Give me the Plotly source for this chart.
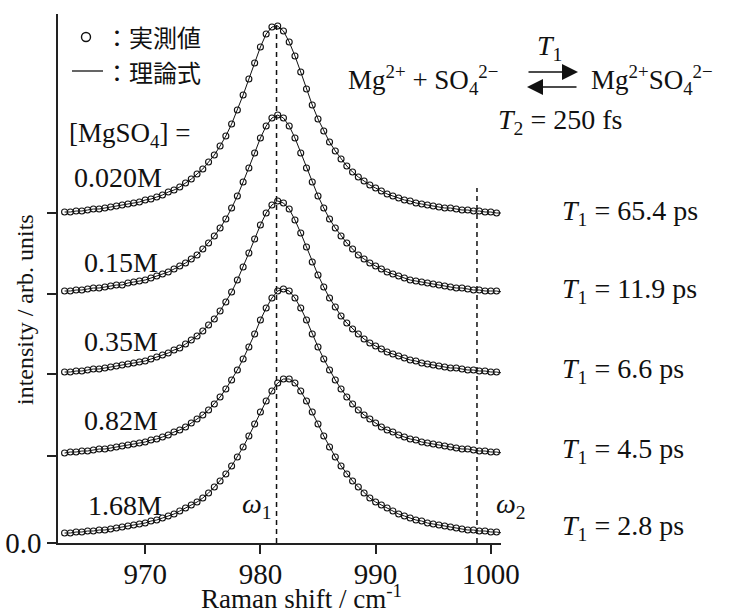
import plotly.graph_objects as go

# ---------------- data ----------------
raman_shift = [963.0, 963.5, 964.0, 964.5, 965.0, 965.5, 966.0, 966.5, 967.0, 967.5,
               968.0, 968.5, 969.0, 969.5, 970.0, 970.5, 971.0, 971.5, 972.0, 972.5,
               973.0, 973.5, 974.0, 974.5, 975.0, 975.5, 976.0, 976.5, 977.0, 977.5,
               978.0, 978.5, 979.0, 979.5, 980.0, 980.5, 981.0, 981.5, 982.0, 982.5,
               983.0, 983.5, 984.0, 984.5, 985.0, 985.5, 986.0, 986.5, 987.0, 987.5,
               988.0, 988.5, 989.0, 989.5, 990.0, 990.5, 991.0, 991.5, 992.0, 992.5,
               993.0, 993.5, 994.0, 994.5, 995.0, 995.5, 996.0, 996.5, 997.0, 997.5,
               998.0, 998.5, 999.0, 999.5, 1000.0, 1000.5, 1001.0]

# intensity (offset, arb. units) for each concentration
int_0020M = [3.31, 3.31, 3.32, 3.32, 3.33, 3.34, 3.34, 3.35, 3.36, 3.37,
             3.38, 3.39, 3.40, 3.41, 3.43, 3.44, 3.46, 3.48, 3.51, 3.53,
             3.56, 3.60, 3.64, 3.69, 3.74, 3.81, 3.88, 3.97, 4.07, 4.19,
             4.33, 4.48, 4.64, 4.80, 4.96, 5.09, 5.16, 5.17, 5.12, 5.01,
             4.87, 4.71, 4.54, 4.38, 4.24, 4.12, 4.01, 3.92, 3.84, 3.77,
             3.71, 3.66, 3.62, 3.58, 3.55, 3.52, 3.49, 3.47, 3.45, 3.43,
             3.42, 3.40, 3.39, 3.38, 3.37, 3.36, 3.35, 3.35, 3.34, 3.33,
             3.33, 3.32, 3.32, 3.31, 3.31, 3.30, 3.30]
int_015M = [2.52, 2.52, 2.53, 2.53, 2.54, 2.55, 2.55, 2.56, 2.57, 2.58,
            2.58, 2.60, 2.61, 2.62, 2.63, 2.65, 2.67, 2.69, 2.71, 2.74,
            2.77, 2.80, 2.84, 2.88, 2.94, 3.00, 3.07, 3.15, 3.24, 3.35,
            3.47, 3.61, 3.75, 3.90, 4.05, 4.17, 4.25, 4.28,
            4.25, 4.17, 4.05, 3.90, 3.75, 3.61, 3.47, 3.35, 3.24, 3.15,
            3.07, 3.00, 2.94, 2.88, 2.84, 2.80, 2.77, 2.74, 2.71, 2.69,
            2.67, 2.65, 2.63, 2.62, 2.61, 2.60, 2.59, 2.58, 2.57, 2.56,
            2.55, 2.55, 2.54, 2.53, 2.53, 2.52, 2.52, 2.52, 2.51]
int_035M = [1.71, 1.71, 1.72, 1.72, 1.73, 1.74, 1.74, 1.75, 1.76, 1.77,
            1.78, 1.79, 1.80, 1.81, 1.82, 1.84, 1.86, 1.88, 1.90, 1.93,
            1.95, 1.99, 2.03, 2.07, 2.12, 2.18, 2.24, 2.32, 2.41, 2.51,
            2.63, 2.76, 2.90, 3.04, 3.18, 3.30, 3.38, 3.42,
            3.40, 3.34, 3.23, 3.10, 2.96, 2.81, 2.68, 2.56, 2.45, 2.36,
            2.27, 2.20, 2.14, 2.09, 2.04, 2.00, 1.97, 1.94, 1.91, 1.89,
            1.87, 1.85, 1.83, 1.82, 1.80, 1.79, 1.78, 1.77, 1.76, 1.75,
            1.75, 1.74, 1.73, 1.73, 1.72, 1.72, 1.71, 1.71, 1.70]
int_082M = [0.90, 0.91, 0.91, 0.92, 0.92, 0.93, 0.94, 0.94, 0.95, 0.96,
            0.97, 0.98, 0.99, 1.00, 1.01, 1.03, 1.04, 1.06, 1.08, 1.11,
            1.13, 1.16, 1.20, 1.24, 1.28, 1.33, 1.39, 1.46, 1.54, 1.63,
            1.73, 1.84, 1.96, 2.09, 2.23, 2.35, 2.45, 2.52, 2.54,
            2.52, 2.45, 2.35, 2.23, 2.09, 1.96, 1.84, 1.73, 1.63, 1.54,
            1.46, 1.39, 1.33, 1.28, 1.24, 1.20, 1.16, 1.13, 1.11, 1.08,
            1.06, 1.04, 1.03, 1.01, 1.00, 0.99, 0.98, 0.97, 0.96, 0.95,
            0.94, 0.94, 0.93, 0.92, 0.92, 0.91, 0.91, 0.90]
int_168M = [0.10, 0.10, 0.11, 0.11, 0.12, 0.12, 0.13, 0.13, 0.14, 0.15,
            0.16, 0.17, 0.18, 0.19, 0.20, 0.22, 0.23, 0.25, 0.27, 0.29,
            0.32, 0.35, 0.38, 0.41, 0.45, 0.50, 0.56, 0.62, 0.69, 0.77,
            0.86, 0.96, 1.07, 1.19, 1.31, 1.42, 1.52, 1.60, 1.64,
            1.64, 1.60, 1.52, 1.42, 1.31, 1.19, 1.07, 0.96, 0.86, 0.77,
            0.69, 0.62, 0.56, 0.50, 0.45, 0.41, 0.38, 0.35, 0.32, 0.29,
            0.27, 0.25, 0.23, 0.22, 0.20, 0.19, 0.18, 0.17, 0.16, 0.15,
            0.14, 0.13, 0.13, 0.12, 0.12, 0.11, 0.11, 0.10]

conc_labels = ["0.020M", "0.15M", "0.35M", "0.82M", "1.68M"]
t1_values = ["65.4", "11.9", "6.6", "4.5", "2.8"]
series = [int_0020M, int_015M, int_035M, int_082M, int_168M]

x_ticks = [970, 980, 990, 1000]
y_ticks = [0.0, 0.87, 1.69, 2.49, 3.30]
y_ticktext = ["0.0", "", "", "", ""]

omega1 = 981.4
omega2 = 998.8

# ---------------- layout geometry ----------------
W, H = 729, 610
PL, PR, PT, PB = 58, 501, 14, 543
SERIF = "Liberation Serif"
CJK = "Noto Sans CJK JP"
INK = "#111111"


def paper(X, Y):
    return (X - PL) / (PR - PL), (PB - Y) / (PB - PT)


fig = go.Figure()

for ys in series:
    fig.add_trace(go.Scatter(
        x=raman_shift, y=ys, mode="lines+markers",
        line=dict(color=INK, width=1),
        marker=dict(symbol="circle-open", size=6, color=INK, line=dict(width=1.1, color=INK)),
        cliponaxis=False, showlegend=False, hoverinfo="skip"))

annotations = []


def text(t, X, Y, size=28, family=SERIF, xanchor="left", yanchor="middle", angle=0):
    xp, yp = paper(X, Y)
    annotations.append(dict(text=t, x=xp, y=yp, xref="paper", yref="paper",
                            xanchor=xanchor, yanchor=yanchor, showarrow=False,
                            textangle=angle,
                            font=dict(family=family, size=size, color=INK)))


# legend-like key
text("：実測値", 103, 37, size=24, family=CJK)
text("：理論式", 103, 71, size=24, family=CJK)
text("[MgSO<sub>4</sub>] =", 67, 135, size=27)

conc_pos = [(72, 177), (82, 262), (82, 342), (82, 420), (86, 505)]
for lab, (X, Y) in zip(conc_labels, conc_pos):
    text(lab, X, Y)

t1_y = [212, 290, 370, 450, 527]
for v, Y in zip(t1_values, t1_y):
    text("<i>T</i><sub>1</sub> = " + v + " ps", 560, Y)

text("<i>ω</i><sub>1</sub>", 240, 505)
text("<i>ω</i><sub>2</sub>", 494, 505)

# reaction scheme
text("Mg<sup>2+</sup> + SO<sub>4</sub><sup>2−</sup>", 346, 80, size=27)
text("<i>T</i><sub>1</sub>", 549, 48, xanchor="center")
text("Mg<sup>2+</sup>SO<sub>4</sub><sup>2−</sup>", 589, 80, size=27)
text("<i>T</i><sub>2</sub> = 250 fs", 496, 122)

# axis titles
text("Raman shift / cm<sup>-1</sup>", 301, 616, size=27, xanchor="center", yanchor="bottom")
text("intensity / arb. units", 25, 310, size=24, xanchor="center", angle=-90)

# equilibrium arrows
for (xh, yh, dx) in [(578, 72, -51), (527, 87, 51)]:
    xp, yp = paper(xh, yh)
    annotations.append(dict(x=xp, y=yp, xref="paper", yref="paper", text="",
                            showarrow=True, ax=dx, ay=0, axref="pixel", ayref="pixel",
                            arrowhead=2, arrowsize=2, arrowwidth=1.6, arrowcolor=INK,
                            standoff=0, startstandoff=0))

shapes = []
# omega dashed lines
for om, ytop in [(omega1, 5.21), (omega2, 3.55)]:
    shapes.append(dict(type="line", xref="x", yref="y", x0=om, x1=om, y0=0, y1=ytop,
                       line=dict(color=INK, width=1.5, dash="5px,4px")))
# key glyphs
cx0, cy0 = paper(81.5, 41.5)
cx1, cy1 = paper(90.5, 32.5)
shapes.append(dict(type="circle", xref="paper", yref="paper", x0=cx0, y0=cy0, x1=cx1, y1=cy1,
                   line=dict(color=INK, width=1.4)))
lx0, ly = paper(72, 71)
lx1, _ = paper(103, 71)
shapes.append(dict(type="line", xref="paper", yref="paper", x0=lx0, x1=lx1, y0=ly, y1=ly,
                   line=dict(color=INK, width=1.3)))

fig.update_layout(
    width=W, height=H,
    margin=dict(l=PL, r=W - PR, t=PT, b=H - PB, pad=0, autoexpand=False),
    paper_bgcolor="white", plot_bgcolor="white",
    annotations=annotations, shapes=shapes,
    xaxis=dict(range=[962.43, 962.43 + (PR - PL) / 11.52],
               tickvals=x_ticks, ticks="outside", ticklen=9, tickwidth=1.5, tickcolor="#222",
               ticklabelstandoff=-5,
               showline=True, linecolor="#222", linewidth=1.5, showgrid=False, zeroline=False,
               tickfont=dict(family=SERIF, size=29, color=INK)),
    yaxis=dict(range=[0, (PB - PT) / 100.0],
               tickvals=y_ticks, ticktext=y_ticktext, ticks="outside", ticklen=9,
               tickwidth=1.5, tickcolor="#222",
               showline=True, linecolor="#222", linewidth=1.5, showgrid=False, zeroline=False,
               tickfont=dict(family=SERIF, size=29, color=INK)),
)

fig.write_html("out.html")
